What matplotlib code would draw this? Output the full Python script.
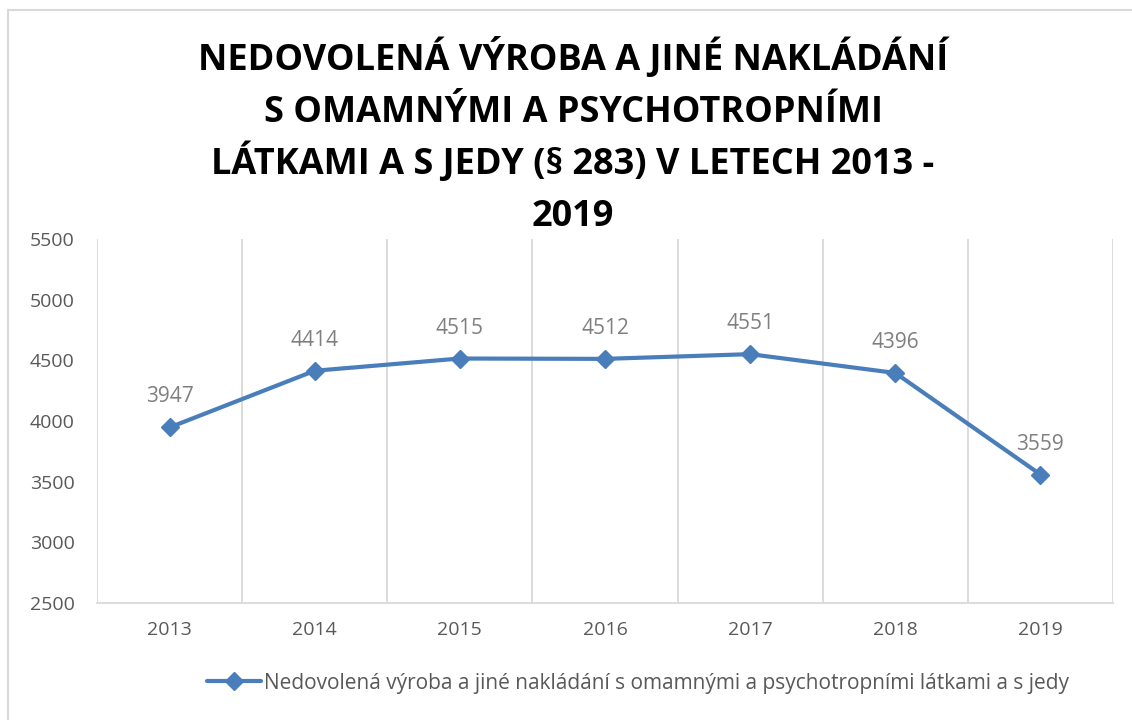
import matplotlib
matplotlib.use("Agg")
import matplotlib.pyplot as plt
from matplotlib.lines import Line2D

years = ["2013", "2014", "2015", "2016", "2017", "2018", "2019"]
values = [3947, 4414, 4515, 4512, 4551, 4396, 3559]
series_name = "Nedovolená výroba a jiné nakládání s omamnými a psychotropními látkami a s jedy"
title_lines = ["NEDOVOLENÁ VÝROBA A JINÉ NAKLÁDÁNÍ",
               "S OMAMNÝMI A PSYCHOTROPNÍMI",
               "LÁTKAMI A S JEDY (§ 283) V LETECH 2013 -",
               "2019"]
y_ticks = [2500, 3000, 3500, 4000, 4500, 5000, 5500]

W, H = 1132, 720
fig = plt.figure(figsize=(W / 100, H / 100), dpi=100)
fig.patch.set_facecolor("white")

font = "Open Sans"
line_color = "#4A7EBB"
grid_color = "#D9D9D9"
text_gray = "#595959"
label_gray = "#7F7F7F"

# chart border (top + left visible)
fig.add_artist(Line2D([8 / W, 1.0], [1 - 10 / H, 1 - 10 / H], color="#D9D9D9", lw=1.5))
fig.add_artist(Line2D([8 / W, 8 / W], [0, 1 - 10 / H], color="#D9D9D9", lw=1.5))

ax = fig.add_axes([97 / W, 1 - 603 / H, (1113 - 97) / W, (603 - 239) / H])
x = list(range(len(years)))
ax.plot(x, values, color=line_color, lw=3, marker="D", markersize=9,
        markerfacecolor=line_color, markeredgecolor=line_color, label=series_name,
        solid_capstyle="round", zorder=3)

for xi, v in zip(x, values):
    ax.annotate(str(v), (xi, v), xytext=(0, 18), textcoords="offset points",
                ha="center", va="baseline", fontsize=15, color=label_gray, family=font)

ax.set_xlim(-0.5, len(years) - 0.5)
ax.set_ylim(2500, 5500)
ax.set_yticks(y_ticks)
ax.set_yticklabels([str(t) for t in y_ticks], fontsize=14, color=text_gray, family=font)
ax.set_xticks(x)
ax.set_xticklabels(years, fontsize=14, color=text_gray, family=font)
ax.set_xticks([i - 0.5 for i in range(len(years) + 1)], minor=True)
ax.tick_params(axis="both", which="both", length=0)
ax.tick_params(axis="y", pad=16)
ax.tick_params(axis="x", pad=13)
ax.grid(True, which="minor", axis="x", color=grid_color, lw=1.3)
ax.grid(False, which="major")
for s in ["top", "right", "left"]:
    ax.spines[s].set_visible(False)
ax.spines["bottom"].set_color(grid_color)
ax.spines["bottom"].set_linewidth(1.3)

baselines = [70, 122, 174, 226]
for line, yb in zip(title_lines, baselines):
    fig.text(573 / W, 1 - yb / H, line, ha="center", va="baseline", fontsize=26,
             fontweight="bold", family=font, color="black")

leg = fig.legend(loc="center", bbox_to_anchor=(638 / W, 1 - 683 / H), frameon=False,
                 prop={"family": font, "size": 15}, handlelength=2.6, handletextpad=0.15)
for t in leg.get_texts():
    t.set_color(text_gray)

fig.savefig("out.png", dpi=100)
